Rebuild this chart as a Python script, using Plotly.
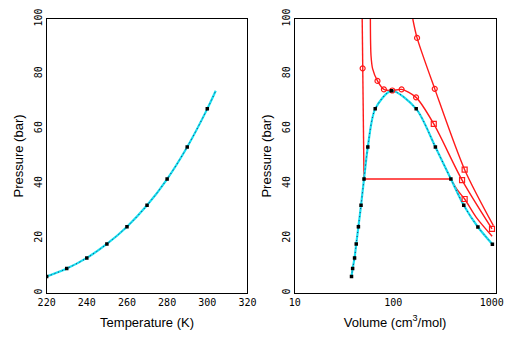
import plotly.graph_objects as go

# ---------------- data ----------------
# left panel: vapour-pressure curve
T_sat = [220, 230, 240, 250, 260, 270, 280, 290, 300]
P_sat = [6.0, 8.9, 12.8, 17.9, 24.2, 32.0, 41.6, 53.3, 67.2]
T_crit = 304.2
P_crit = 73.8

# right panel: coexistence dome
V_liq = [37.7, 38.7, 40.5, 42.1, 44.3, 47.1, 50.5, 55.2, 65.6]
V_crit = 96.0
V_vap = [171, 268, 385, 520, 724, 1016]
P_vap = [67.2, 53.3, 41.6, 32.0, 24.1, 17.8]

# isotherm below Tc (liquid branch, tie line, vapour branch)
iso1_liq_V = [48.4, 48.9, 50.5]
iso1_liq_P = [100, 82, 41.6]
iso1_tie_V = [50.5, 385]
iso1_tie_P = [41.6, 41.6]
iso1_vap_V = [385, 450, 531, 700, 1010]
iso1_vap_P = [41.6, 37.5, 34.3, 27.5, 20.7]

# critical isotherm
iso2_V = [58.6, 59.5, 61.8, 69.2, 80.4, 97.8, 121.6, 170.6, 258, 500, 1007]
iso2_P = [100, 86.6, 81.8, 77.4, 74.3, 73.9, 74.3, 71.4, 61.7, 41.2, 23.4]

# supercritical isotherm
iso3_V = [158, 174.6, 264, 531, 1040]
iso3_P = [100, 93.1, 74.5, 45.0, 24.6]

# red data markers
circ_V = [48.9, 69.2, 80.4, 97.8, 121.6, 170.6, 174.6, 264]
circ_P = [82, 77.4, 74.3, 73.9, 74.3, 71.4, 93.1, 74.5]
sq_V = [258, 500, 531, 531, 1007]
sq_P = [61.7, 41.2, 45.0, 34.3, 23.4]

x_ticks_T = [220, 240, 260, 280, 300, 320]
y_ticks_P = [0, 20, 40, 60, 80, 100]
x_ticks_V = [10, 100, 1000]

# ---------------- styles ----------------
RED = "#ff1a1a"
CYAN = "#19e0f0"
DARK = "#1a1a60"

fig = go.Figure()

# left panel
fig.add_trace(go.Scatter(x=T_sat + [T_crit], y=P_sat + [P_crit], mode="lines",
                         line=dict(color=CYAN, width=2.2, shape="spline"),
                         xaxis="x", yaxis="y", showlegend=False))
fig.add_trace(go.Scatter(x=T_sat + [T_crit], y=P_sat + [P_crit], mode="lines",
                         line=dict(color=DARK, width=0.9, dash="1px,3px", shape="spline"),
                         xaxis="x", yaxis="y", showlegend=False))
fig.add_trace(go.Scatter(x=T_sat, y=P_sat, mode="markers",
                         marker=dict(symbol="square", size=3.5, color="black"),
                         xaxis="x", yaxis="y", showlegend=False))

# right panel: red isotherms
for xs, ys, shp in [(iso1_liq_V, iso1_liq_P, "linear"),
                    (iso1_tie_V, iso1_tie_P, "linear"),
                    (iso1_vap_V, iso1_vap_P, "spline"),
                    (iso2_V, iso2_P, "spline"),
                    (iso3_V, iso3_P, "spline")]:
    fig.add_trace(go.Scatter(x=xs, y=ys, mode="lines",
                             line=dict(color=RED, width=1.4, shape=shp, smoothing=0.8),
                             xaxis="x2", yaxis="y2", showlegend=False))

dome_V = V_liq + [V_crit] + V_vap
dome_P = P_sat + [P_crit] + P_vap
fig.add_trace(go.Scatter(x=dome_V, y=dome_P, mode="lines",
                         line=dict(color=CYAN, width=2.2, shape="spline", smoothing=0.8),
                         xaxis="x2", yaxis="y2", showlegend=False))
fig.add_trace(go.Scatter(x=dome_V, y=dome_P, mode="lines",
                         line=dict(color=DARK, width=0.9, dash="1px,3px", shape="spline", smoothing=0.8),
                         xaxis="x2", yaxis="y2", showlegend=False))

fig.add_trace(go.Scatter(x=circ_V, y=circ_P, mode="markers",
                         marker=dict(symbol="circle-open", size=5, color=RED, line=dict(width=1.2)),
                         xaxis="x2", yaxis="y2", showlegend=False))
fig.add_trace(go.Scatter(x=sq_V, y=sq_P, mode="markers",
                         marker=dict(symbol="square-open", size=5, color=RED, line=dict(width=1.2)),
                         xaxis="x2", yaxis="y2", showlegend=False))
fig.add_trace(go.Scatter(x=dome_V, y=dome_P, mode="markers",
                         marker=dict(symbol="square", size=3.5, color="black"),
                         xaxis="x2", yaxis="y2", showlegend=False))

tickfont = dict(family="DejaVu Sans Mono", size=10, color="black")
titlefont = dict(family="Liberation Sans", size=13, color="black")
common_ax = dict(showline=True, linecolor="black", linewidth=1, mirror=True,
                 showgrid=False, zeroline=False, ticks="", tickfont=tickfont,
                 title_font=titlefont)

fig.update_layout(
    width=520, height=341,
    margin=dict(l=0, r=0, t=19, b=48),
    paper_bgcolor="white", plot_bgcolor="white",
    xaxis=dict(domain=[39 / 520, 247 / 520], range=[220, 320], tickvals=x_ticks_T,
               title=dict(text="Temperature (K)", standoff=10), anchor="y", **common_ax),
    yaxis=dict(domain=[0, 1], range=[0, 100], tickvals=y_ticks_P, tickangle=-90,
               title=dict(text="Pressure (bar)", standoff=6), anchor="x", **common_ax),
    xaxis2=dict(domain=[296 / 520, 504 / 520], type="log", range=[1, 3.039],
                tickvals=x_ticks_V, ticktext=[str(v) for v in x_ticks_V],
                title=dict(text="Volume (cm<sup>3</sup>/mol)", standoff=10), anchor="y2", **common_ax),
    yaxis2=dict(domain=[0, 1], range=[0, 100], tickvals=y_ticks_P, tickangle=-90,
                title=dict(text="Pressure (bar)", standoff=6), anchor="x2", **common_ax),
)

fig.write_html("out.html")
